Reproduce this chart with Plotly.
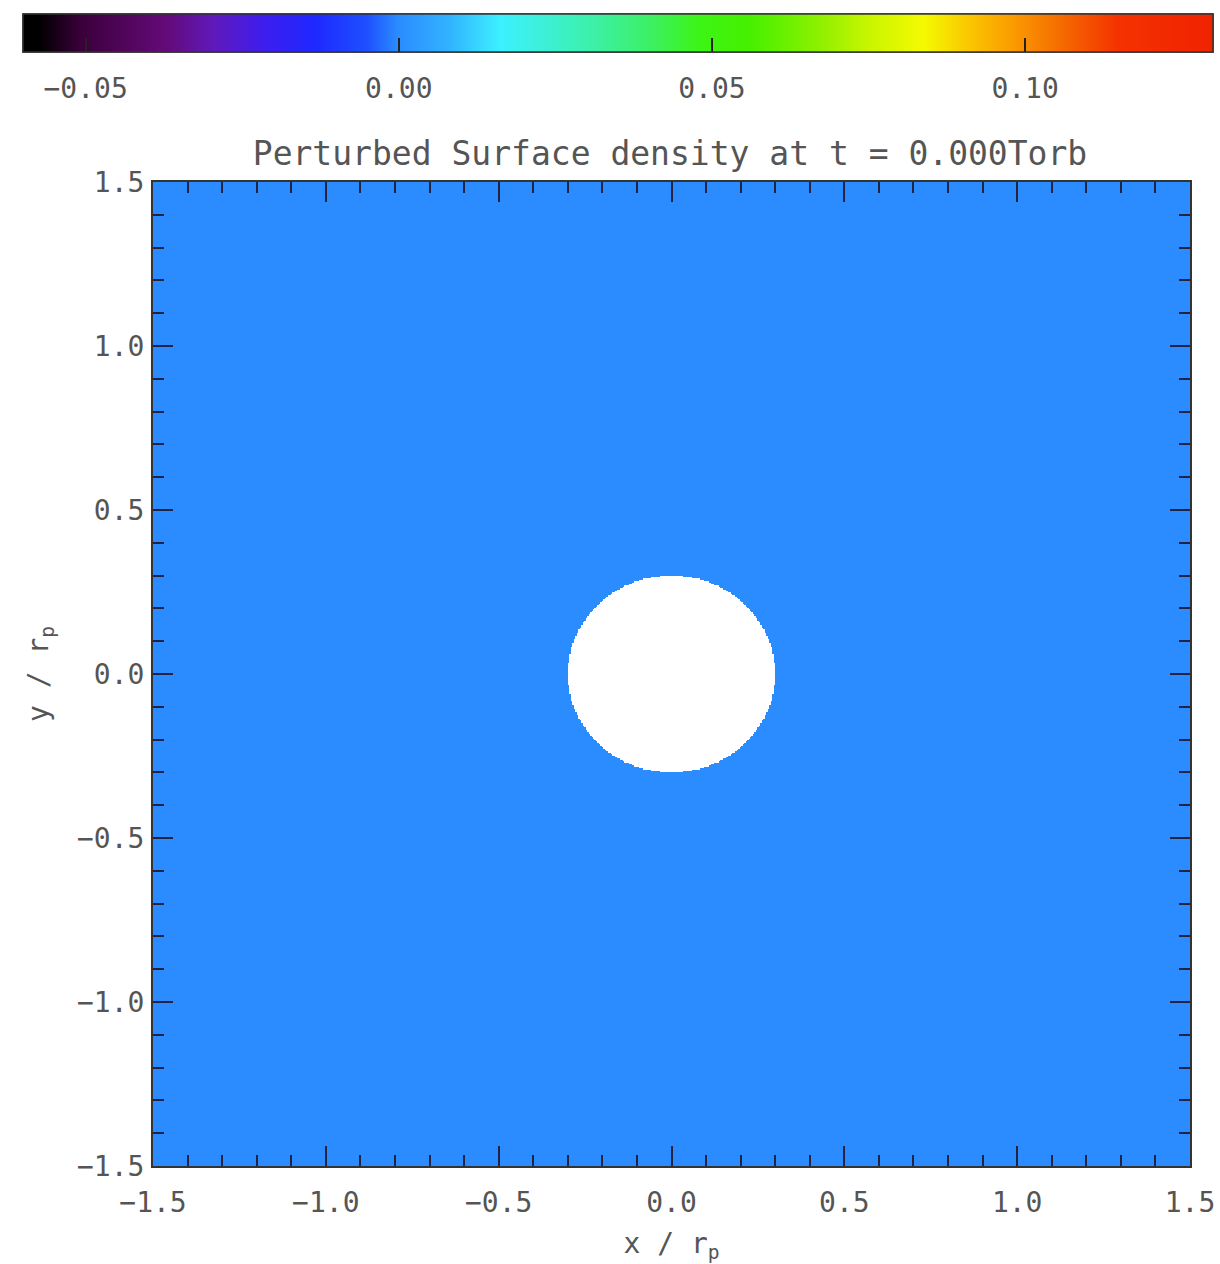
import numpy as np
import plotly.graph_objects as go

# Field range and geometry
x_range = [-1.5, 1.5]
y_range = [-1.5, 1.5]
n_cells = 700
inner_radius = 0.3          # inner boundary of the disc (no data inside)
perturbation_value = 0.0    # perturbed surface density at t = 0

# Colour bar range and labels
z_min, z_max = -0.06, 0.13
cbar_ticks = [-0.05, 0.00, 0.05, 0.10]

# Rainbow colour table (black -> purple -> blue -> cyan -> green -> yellow -> red)
cmap_pos = [0.0, 0.013, 0.050, 0.120, 0.162, 0.205, 0.245, 0.289, 0.314, 0.359,
            0.401, 0.443, 0.485, 0.527, 0.569, 0.611, 0.668, 0.710, 0.757, 0.794,
            0.836, 0.878, 0.920, 1.0]
cmap_rgb = [(0, 0, 0), (0, 0, 0), (60, 0, 60), (100, 10, 120), (95, 25, 190),
            (60, 30, 240), (30, 40, 255), (30, 80, 255), (42, 138, 255),
            (50, 180, 255), (60, 240, 255), (60, 240, 210), (60, 240, 160),
            (60, 240, 100), (60, 245, 20), (70, 240, 0), (140, 240, 0),
            (200, 245, 0), (245, 250, 0), (250, 200, 0), (250, 150, 0),
            (245, 100, 0), (245, 50, 0), (240, 35, 0)]
colorscale = [[p, "rgb(%d,%d,%d)" % c] for p, c in zip(cmap_pos, cmap_rgb)]

# Grid of cell centres
dx = (x_range[1] - x_range[0]) / n_cells
xs = np.linspace(x_range[0] + dx / 2, x_range[1] - dx / 2, n_cells)
ys = np.linspace(y_range[0] + dx / 2, y_range[1] - dx / 2, n_cells)
X, Y = np.meshgrid(xs, ys)
Z = np.full(X.shape, perturbation_value)
Z[np.hypot(X, Y) < inner_radius] = np.nan
Z = np.round(Z, 3)

FONT = "DejaVu Sans Mono"
TXT = "#555555"

W, H = 1220, 1264
ML, MR, MT, MB = 153, 30, 182, 98
pw, ph = W - ML - MR, H - MT - MB

# Common placement of the horizontal colour bar above the map
cbar_place = dict(
    orientation="h",
    lenmode="pixels", len=1190,
    thicknessmode="pixels", thickness=38,
    x=(618 - ML) / pw, xanchor="center",
    y=1 + (MT - 14) / ph, yanchor="top",
    xpad=0, ypad=0,
    outlinecolor="#333333", outlinewidth=1.5,
    tickvals=cbar_ticks, tickformat=".2f",
)

fig = go.Figure()

# Map itself; its colour bar carries the labels
fig.add_trace(go.Heatmap(
    x=xs, y=ys, z=Z, zmin=z_min, zmax=z_max, colorscale=colorscale,
    zsmooth=False, hoverinfo="skip",
    colorbar=dict(
        **cbar_place,
        ticks="outside", ticklen=12, tickcolor="rgba(0,0,0,0)",
        tickfont=dict(family=FONT, size=28, color=TXT),
    ),
))

# Same scale again on top, drawing the short inward tick marks
fig.add_trace(go.Scatter(
    x=[None], y=[None], mode="markers", hoverinfo="skip", showlegend=False,
    marker=dict(
        color=[z_min], cmin=z_min, cmax=z_max, colorscale=colorscale,
        showscale=True,
        colorbar=dict(
            **cbar_place,
            ticks="inside", ticklen=14, tickwidth=2, tickcolor="#222222",
            showticklabels=False,
        ),
    ),
))

axis_common = dict(
    showgrid=False, zeroline=False,
    showline=True, linecolor="#333333", linewidth=2, mirror="ticks",
    ticks="inside", ticklen=20, tickwidth=2, tickcolor="#222244",
    dtick=0.5, tick0=0, tickformat=".1f",
    minor=dict(ticks="inside", ticklen=11, tickwidth=2, tickcolor="#222244",
               dtick=0.1, tick0=0, showgrid=False),
    tickfont=dict(family=FONT, size=28, color=TXT),
)

fig.update_xaxes(range=x_range, ticklabelstandoff=10,
                 title=dict(text="x / r<sub>p</sub>", standoff=22,
                            font=dict(family=FONT, size=28, color=TXT)),
                 **axis_common)
fig.update_yaxes(range=y_range, ticklabelstandoff=1,
                 title=dict(text="y / r<sub>p</sub>", standoff=20,
                            font=dict(family=FONT, size=28, color=TXT)),
                 **axis_common)

fig.update_layout(
    width=W, height=H,
    margin=dict(l=ML, r=MR, t=MT, b=MB, autoexpand=False),
    paper_bgcolor="white", plot_bgcolor="white",
    title=dict(text="Perturbed Surface density at t = 0.000Torb",
               x=670 / W, xanchor="center",
               y=1 - 153 / H, yanchor="middle",
               font=dict(family=FONT, size=33, color=TXT)),
)

fig.write_html("out.html")
